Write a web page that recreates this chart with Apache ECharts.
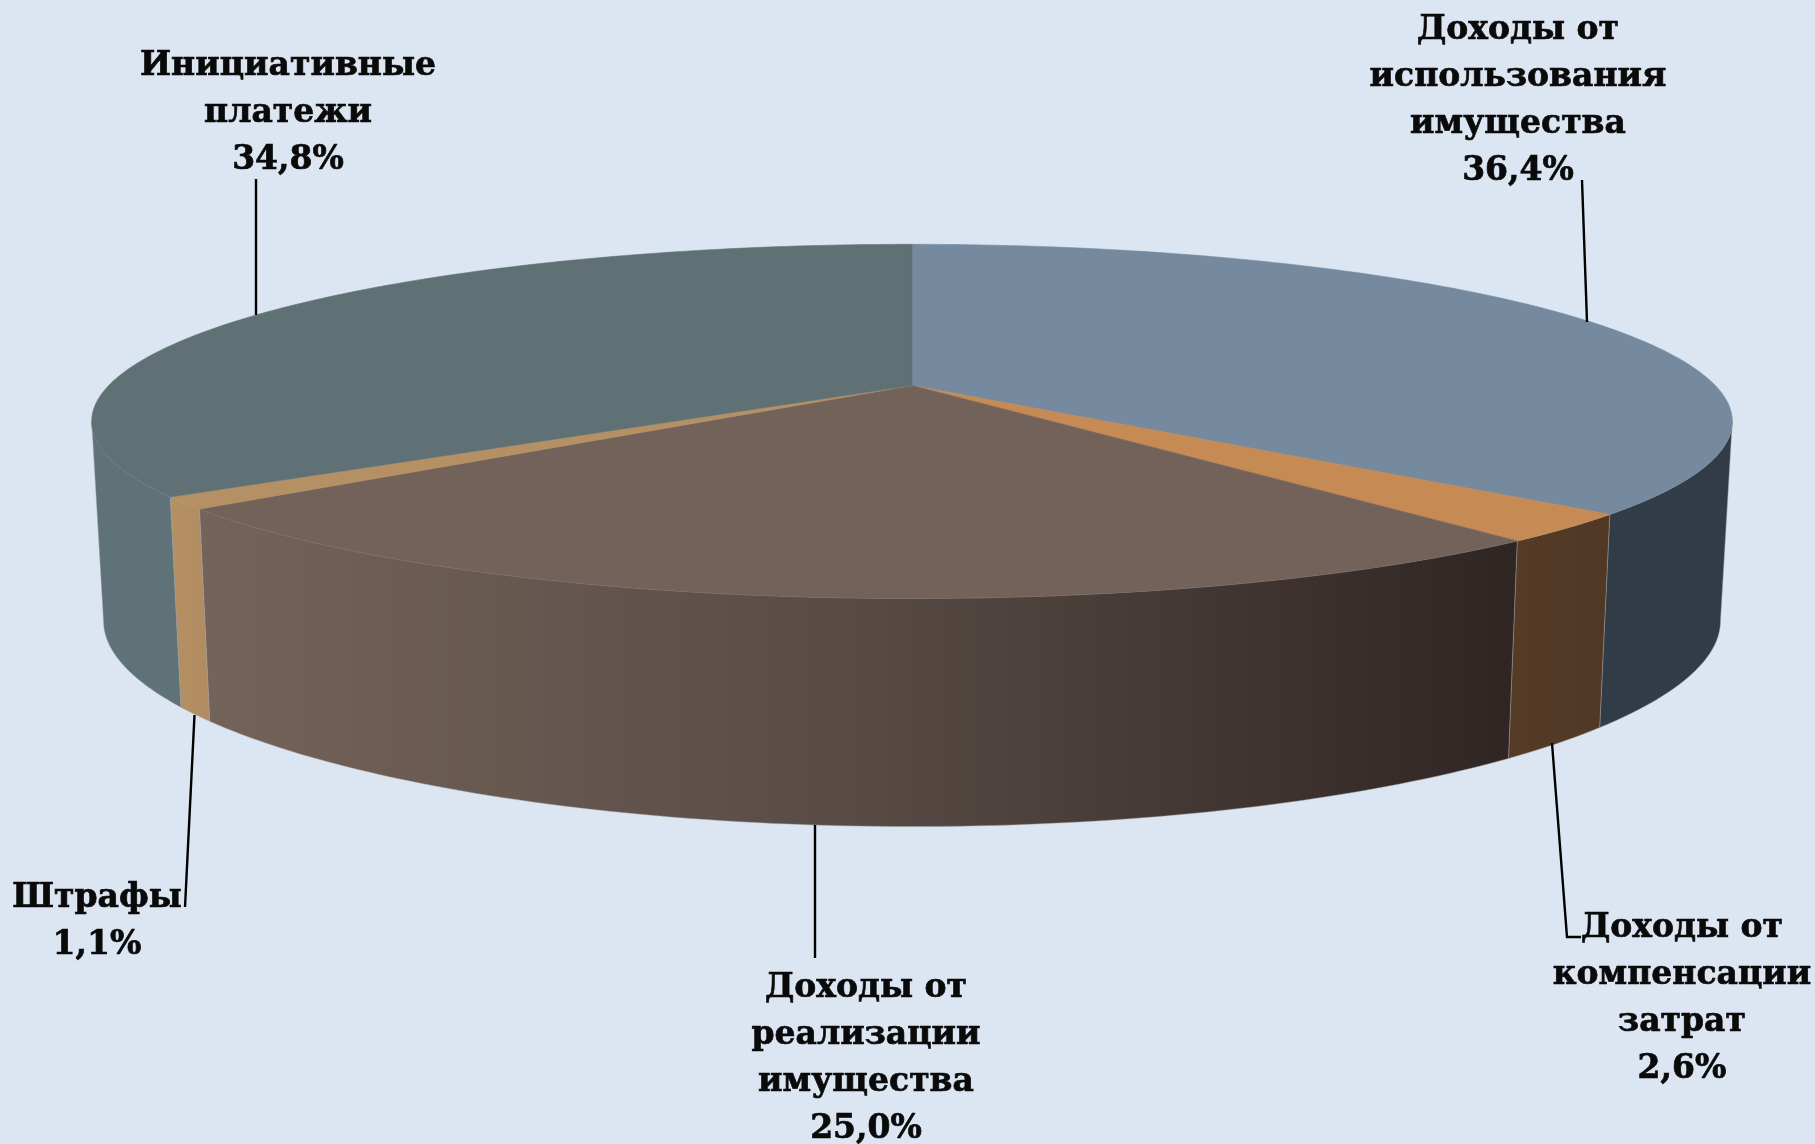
<!DOCTYPE html>
<html><head><meta charset="utf-8">
<style>html,body{margin:0;padding:0;background:#dce6f2}#c{width:1815px;height:1144px}</style>
<script src="https://cdn.jsdelivr.net/npm/echarts@6/dist/echarts.min.js"></script>
</head><body><div id="c"></div>
<script>
// Data
const categories = [
  ['Доходы от','использования','имущества'],
  ['Доходы от','компенсации','затрат'],
  ['Доходы от','реализации','имущества'],
  ['Штрафы'],
  ['Инициативные','платежи']
];
const shares = [36.4, 2.6, 25.0, 1.1, 34.8];
const shareLabels = ['36,4%','2,6%','25,0%','1,1%','34,8%'];

// Styles
const topColors = ['#758a9f','#c68a55','#73625a','#b49064','#5f7174'];
const wallStops = [
  [[0,'#323c47'],[1,'#333c46']],
  [[0,'#563c27'],[1,'#503825']],
  [[0,'#746359'],[0.5,'#584b46'],[1,'#2f2522']],
  [[0,'#b59063'],[1,'#b08c60']],
  [[0,'#5e7278'],[1,'#5f7277']]
];
const labelCenters = [[1518,30],[1682,928],[866,988],[97,898],[288,66]];
const leaders = [
  [[1582,180],[1587,322]],
  [[1552,743],[1567,937],[1581,937]],
  [[815,825],[815,958]],
  [[194.5,715],[185,907]],
  [[256,179],[256,315]]
];
const lineStep = 47;
const top3d = {cx:912,y0:385.5,A:803.3,B:169.8,kx:0.2026,ky:0.2026};
const bot3d = {cx:912,y0:580.7,A:791.7,B:189.3,kx:0.2026,ky:0.23};

function project(p, deg){
  const t = deg*Math.PI/180, u = Math.sin(t), v = -Math.cos(t);
  return [p.cx + p.A*u/(1-p.kx*v), p.y0 + p.B*v/(1-p.ky*v)];
}
function arc(p, a, b){
  const out = [], n = Math.max(2, Math.ceil(Math.abs(b-a)));
  for(let i=0;i<=n;i++) out.push(project(p, a+(b-a)*i/n));
  return out;
}
const total = shares.reduce((s,x)=>s+x,0);
const silhL = Math.acos(-top3d.kx)*180/Math.PI, silhR = 360-silhL;

function renderItem(params, api){
  const i = params.dataIndex;
  let before = 0;
  for(let j=0;j<i;j++) before += shares[j];
  const a = before/total*360, b = (before+api.value(0))/total*360;
  const children = [];
  const wa = Math.max(a, silhL), wb = Math.min(b, silhR);
  if(wb > wa){
    const pts = arc(top3d, wa, wb).concat(arc(bot3d, wa, wb).reverse());
    children.push({type:'polygon',shape:{points:pts},style:{
      fill:new echarts.graphic.LinearGradient(0,0,1,0,wallStops[i].map(s=>({offset:s[0],color:s[1]}))),
      stroke:'rgba(160,160,160,0.45)',lineWidth:1}});
  }
  const facePts = [[top3d.cx,top3d.y0]].concat(arc(top3d,a,b));
  children.push({type:'polygon',shape:{points:facePts},style:{fill:topColors[i],stroke:topColors[i],lineWidth:0.6}});
  children.push({type:'polyline',shape:{points:leaders[i]},style:{stroke:'#000',lineWidth:2.4,fill:null}});
  const lines = categories[i].concat([shareLabels[i]]);
  lines.forEach((t,k)=>children.push({type:'text',style:{
    text:t,x:labelCenters[i][0],y:labelCenters[i][1]+k*lineStep,
    align:'center',verticalAlign:'middle',
    fontFamily:'"DejaVu Serif"',fontWeight:'bold',fontSize:33,fill:'#0a0a0a',
    stroke:'#0a0a0a',lineWidth:0.7}}));
  return {type:'group',children};
}
const chart = echarts.init(document.getElementById('c'),null,{renderer:'canvas'});
chart.setOption({
  backgroundColor:'#dce6f2',
  animation:false,
  series:[{type:'custom',coordinateSystem:'none',clip:false,renderItem,
    data:shares.map((v,i)=>({value:[v],name:categories[i].join(' ')}))}]
});
</script></body></html>
